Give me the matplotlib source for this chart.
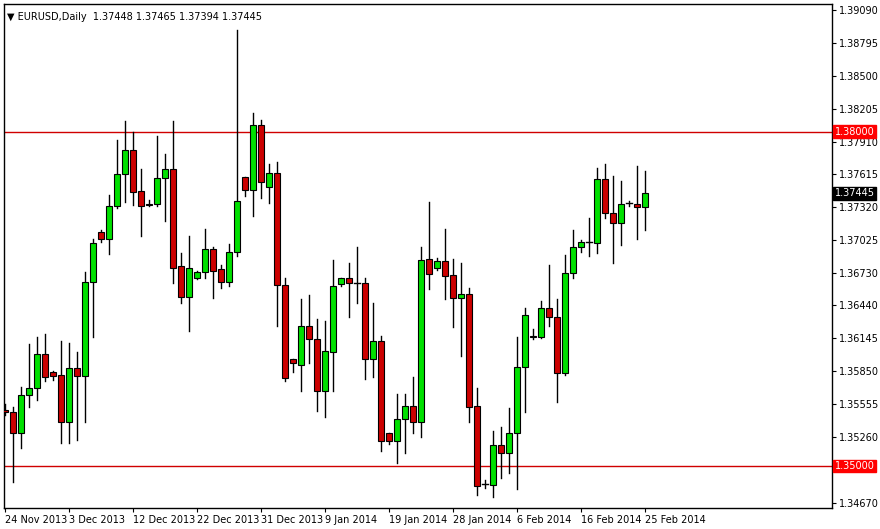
import matplotlib
matplotlib.use('Agg')
import matplotlib.pyplot as plt
from matplotlib.patches import Rectangle

# --- Data (daily EURUSD) ---
opens = [1.3550, 1.3548, 1.3530, 1.3564, 1.3570, 1.3600, 1.3584, 1.3582, 1.3539, 1.3588,
         1.3581, 1.3665, 1.3710, 1.3704, 1.3733, 1.3762, 1.3783, 1.3747, 1.3735, 1.3735,
         1.3758, 1.3766, 1.3679, 1.3652, 1.3669, 1.3674, 1.3695, 1.3677, 1.3665, 1.3692,
         1.3759, 1.3748, 1.3806, 1.3750, 1.3763, 1.3662, 1.3596, 1.3591, 1.3626, 1.3614,
         1.3567, 1.3602, 1.3663, 1.3669, 1.3664, 1.3664, 1.3596, 1.3612, 1.3530, 1.3522,
         1.3542, 1.3554, 1.3539, 1.3686, 1.3678, 1.3684, 1.3671, 1.3651, 1.3654, 1.3554,
         1.3484, 1.3483, 1.3519, 1.3512, 1.3530, 1.3589, 1.3617, 1.3616, 1.3642, 1.3634,
         1.3583, 1.3673, 1.3696, 1.3701, 1.3700, 1.3757, 1.3727, 1.3718, 1.3736, 1.3735,
         1.3732]
highs = [1.3556, 1.3553, 1.3571, 1.3609, 1.3616, 1.3618, 1.3585, 1.3612, 1.3610, 1.3602,
         1.3674, 1.3704, 1.3712, 1.3743, 1.3792, 1.3809, 1.3800, 1.3766, 1.3739, 1.3796,
         1.3780, 1.3809, 1.3691, 1.3706, 1.3675, 1.3713, 1.3696, 1.3680, 1.3699, 1.3891,
         1.3759, 1.3817, 1.3810, 1.3771, 1.3773, 1.3669, 1.3596, 1.3650, 1.3653, 1.3632,
         1.3630, 1.3685, 1.3669, 1.3682, 1.3696, 1.3669, 1.3646, 1.3617, 1.3530, 1.3565,
         1.3565, 1.3580, 1.3696, 1.3737, 1.3687, 1.3713, 1.3686, 1.3682, 1.3660, 1.3570,
         1.3487, 1.3531, 1.3535, 1.3552, 1.3616, 1.3642, 1.3623, 1.3648, 1.3680, 1.3650,
         1.3689, 1.3712, 1.3703, 1.3722, 1.3767, 1.3771, 1.3760, 1.3756, 1.3738, 1.3769,
         1.3765]
lows = [1.3546, 1.3486, 1.3516, 1.3553, 1.3559, 1.3576, 1.3577, 1.3521, 1.3521, 1.3523,
        1.3539, 1.3616, 1.3701, 1.3690, 1.3731, 1.3737, 1.3734, 1.3706, 1.3733, 1.3733,
        1.3720, 1.3664, 1.3646, 1.3621, 1.3668, 1.3669, 1.3651, 1.3660, 1.3661, 1.3688,
        1.3742, 1.3724, 1.3740, 1.3736, 1.3626, 1.3576, 1.3584, 1.3567, 1.3592, 1.3549,
        1.3544, 1.3567, 1.3661, 1.3634, 1.3646, 1.3578, 1.3580, 1.3513, 1.3520, 1.3503,
        1.3512, 1.3530, 1.3526, 1.3659, 1.3676, 1.3650, 1.3625, 1.3599, 1.3539, 1.3474,
        1.3480, 1.3472, 1.3489, 1.3494, 1.3479, 1.3548, 1.3614, 1.3615, 1.3626, 1.3557,
        1.3582, 1.3669, 1.3692, 1.3688, 1.3691, 1.3722, 1.3682, 1.3698, 1.3733, 1.3704,
        1.3712]
closes = [1.3548, 1.3530, 1.3564, 1.3570, 1.3600, 1.3580, 1.3581, 1.3539, 1.3588, 1.3581,
          1.3665, 1.3700, 1.3704, 1.3733, 1.3762, 1.3783, 1.3746, 1.3733, 1.3734, 1.3758,
          1.3766, 1.3678, 1.3652, 1.3678, 1.3674, 1.3695, 1.3675, 1.3665, 1.3692, 1.3738,
          1.3748, 1.3806, 1.3755, 1.3763, 1.3662, 1.3579, 1.3592, 1.3626, 1.3614, 1.3567,
          1.3603, 1.3661, 1.3669, 1.3664, 1.3664, 1.3596, 1.3612, 1.3522, 1.3522, 1.3542,
          1.3554, 1.3539, 1.3685, 1.3672, 1.3684, 1.3670, 1.3651, 1.3654, 1.3553, 1.3482,
          1.3484, 1.3519, 1.3512, 1.3530, 1.3589, 1.3635, 1.3616, 1.3642, 1.3634, 1.3583,
          1.3673, 1.3696, 1.3701, 1.3701, 1.3757, 1.3727, 1.3718, 1.3735, 1.3736, 1.3732,
          1.37445]

date_labels = ['24 Nov 2013', '3 Dec 2013', '12 Dec 2013', '22 Dec 2013', '31 Dec 2013',
               '9 Jan 2014', '19 Jan 2014', '28 Jan 2014', '6 Feb 2014', '16 Feb 2014',
               '25 Feb 2014']
price_ticks = [1.39090, 1.38795, 1.38500, 1.38205, 1.37910, 1.37615, 1.37320, 1.37025,
               1.36730, 1.36440, 1.36145, 1.35850, 1.35555, 1.35260, 1.34670]
levels = [1.38000, 1.35000]
last_price = 1.37445

GREEN = '#00e000'
RED = '#cc0000'

fig = plt.figure(figsize=(8.8, 5.29), dpi=100)
ax = fig.add_axes([4 / 880, 1 - 508 / 529, 828 / 880, 504 / 529])

for i, (o, h, l, c) in enumerate(zip(opens, highs, lows, closes)):
    ax.plot([i, i], [l, h], color='black', lw=1, zorder=2)
    bottom = min(o, c)
    height = abs(c - o)
    if height < 0.00005:
        ax.plot([i - 0.35, i + 0.35], [o, o], color='black', lw=1, zorder=3)
    else:
        ax.add_patch(Rectangle((i - 0.32, bottom), 0.64, height,
                               facecolor=GREEN if c > o else RED,
                               edgecolor='black', lw=0.8, zorder=3))

for lv in levels:
    ax.axhline(lv, color='#d00000', lw=1, zorder=1)

ax.set_xlim(-0.125, 103.375)
ax.set_ylim(1.34623, 1.39144)

ax.yaxis.tick_right()
ax.set_yticks(price_ticks)
ax.set_yticklabels([f'{p:.5f}' for p in price_ticks])
ax.set_xticks(range(0, 8 * len(date_labels), 8))
ax.set_xticklabels(date_labels, ha='left')
ax.tick_params(axis='both', labelsize=7, length=3, direction='out', pad=2)
for lab in ax.get_xticklabels():
    lab.set_x(0)
for sp in ax.spines.values():
    sp.set_color('black')
    sp.set_linewidth(1)

# right-axis price boxes
for lv in levels:
    ax.text(1.003, lv, f'{lv:.5f}', transform=ax.get_yaxis_transform(), fontsize=7,
            color='white', va='center', ha='left',
            bbox=dict(boxstyle='square,pad=0.15', fc='#ff0000', ec='#ff0000'))
ax.text(1.003, last_price, f'{last_price:.5f}', transform=ax.get_yaxis_transform(),
        fontsize=7, color='white', va='center', ha='left',
        bbox=dict(boxstyle='square,pad=0.15', fc='black', ec='black'))

ax.text(0.004, 0.985, '\u25bc EURUSD,Daily  1.37448 1.37465 1.37394 1.37445',
        transform=ax.transAxes, fontsize=7, va='top', ha='left')

fig.savefig('out.png', dpi=100)
